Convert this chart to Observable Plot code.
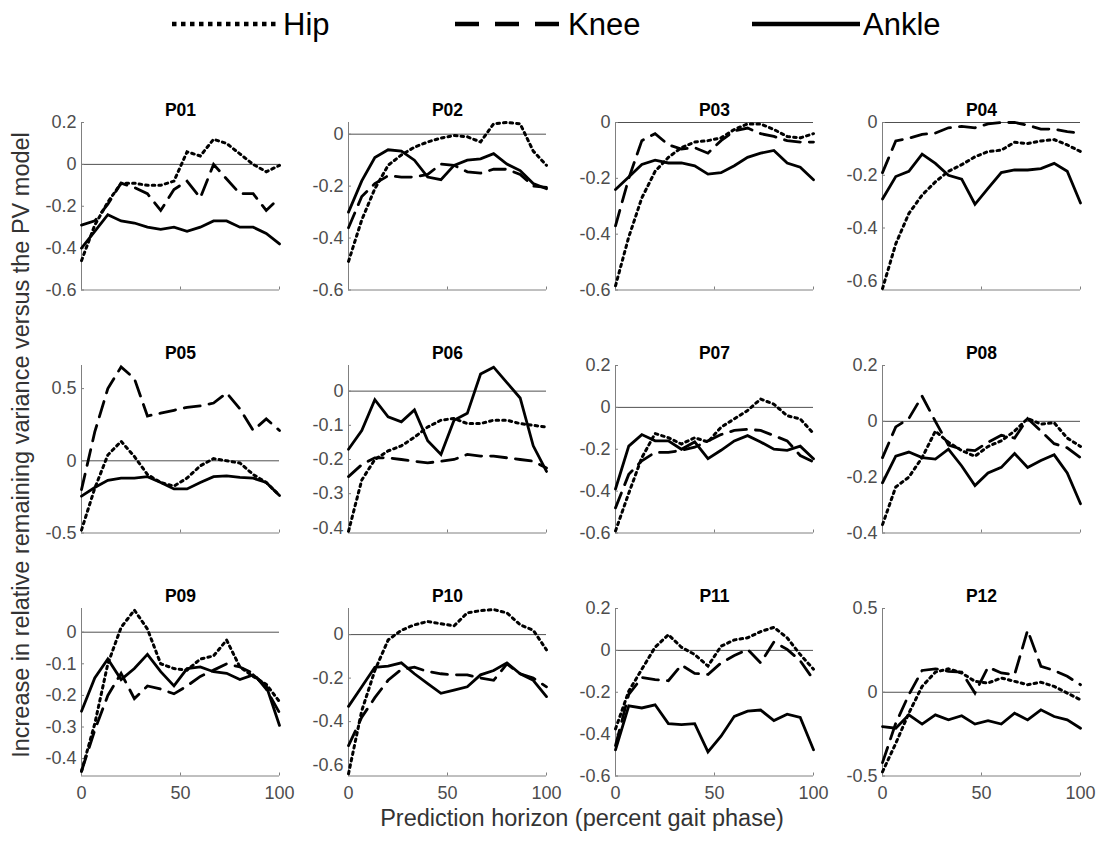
<!DOCTYPE html>
<html><head><meta charset="utf-8">
<script src="https://cdn.jsdelivr.net/npm/d3@7"></script>
<script src="https://cdn.jsdelivr.net/npm/@observablehq/plot@0.6"></script>
<style>
body{margin:0;background:#fff;font-family:"Liberation Sans",Arial,sans-serif;}
#root{position:relative;width:1097px;height:841px;overflow:hidden;background:#fff}
.panel{position:absolute}
.ylab{position:absolute;left:22px;top:445px;transform:translate(-50%,-50%) rotate(-90deg);white-space:nowrap;font-size:23.5px;line-height:1;color:#333}
.xlab{position:absolute;left:582px;top:819px;transform:translate(-50%,-50%);white-space:nowrap;font-size:23.5px;line-height:1;color:#333}
#legend{position:absolute;left:0;top:0}
</style></head><body><div id="root"></div>
<script>
// ---- data ----
const horizon = [0, 6.7, 13.3, 20, 26.7, 33.3, 40, 46.7, 53.3, 60, 66.7, 73.3, 80, 86.7, 93.3, 100];
const participants = ["P01","P02","P03","P04","P05","P06","P07","P08","P09","P10","P11","P12"];
const joints = ["Hip","Knee","Ankle"];

const hipP01 = [-0.46,-0.29,-0.18,-0.09,-0.09,-0.10,-0.10,-0.08,0.06,0.04,0.12,0.10,0.05,0.00,-0.035,-0.005];
const kneeP01 = [-0.29,-0.27,-0.19,-0.09,-0.11,-0.14,-0.22,-0.12,-0.08,-0.16,0.0,-0.07,-0.14,-0.14,-0.22,-0.16];
const ankleP01 = [-0.40,-0.32,-0.24,-0.27,-0.28,-0.30,-0.31,-0.30,-0.32,-0.30,-0.27,-0.27,-0.30,-0.30,-0.33,-0.38];

const hipP02 = [-0.49,-0.33,-0.21,-0.12,-0.08,-0.05,-0.03,-0.015,-0.005,-0.01,-0.03,0.04,0.045,0.04,-0.065,-0.12];
const kneeP02 = [-0.36,-0.24,-0.19,-0.16,-0.165,-0.165,-0.155,-0.115,-0.12,-0.145,-0.15,-0.135,-0.135,-0.155,-0.20,-0.205];
const ankleP02 = [-0.30,-0.18,-0.09,-0.06,-0.065,-0.10,-0.165,-0.175,-0.12,-0.10,-0.095,-0.075,-0.115,-0.14,-0.19,-0.21];

const hipP03 = [-0.585,-0.41,-0.27,-0.175,-0.125,-0.09,-0.07,-0.065,-0.055,-0.025,-0.005,-0.005,-0.025,-0.05,-0.055,-0.04];
const kneeP03 = [-0.37,-0.20,-0.065,-0.04,-0.08,-0.095,-0.09,-0.11,-0.065,-0.03,-0.02,-0.04,-0.05,-0.065,-0.07,-0.07];
const ankleP03 = [-0.24,-0.195,-0.15,-0.135,-0.145,-0.145,-0.155,-0.185,-0.18,-0.155,-0.125,-0.11,-0.10,-0.145,-0.16,-0.205];

const hipP04 = [-0.63,-0.46,-0.345,-0.275,-0.225,-0.185,-0.16,-0.13,-0.11,-0.105,-0.075,-0.08,-0.07,-0.065,-0.085,-0.11];
const kneeP04 = [-0.19,-0.07,-0.06,-0.045,-0.04,-0.02,-0.015,-0.02,-0.005,0.0,0.0,-0.01,-0.025,-0.025,-0.035,-0.04];
const ankleP04 = [-0.29,-0.205,-0.185,-0.12,-0.155,-0.20,-0.215,-0.31,-0.25,-0.19,-0.18,-0.18,-0.175,-0.155,-0.185,-0.305];

const hipP05 = [-0.48,-0.19,0.04,0.135,0.03,-0.095,-0.15,-0.175,-0.12,-0.035,0.015,0.0,-0.015,-0.095,-0.15,-0.24];
const kneeP05 = [-0.2,0.2,0.5,0.65,0.57,0.31,0.33,0.35,0.37,0.38,0.40,0.47,0.36,0.21,0.29,0.21];
const ankleP05 = [-0.245,-0.185,-0.135,-0.12,-0.12,-0.11,-0.15,-0.195,-0.195,-0.15,-0.11,-0.105,-0.115,-0.12,-0.15,-0.24];

const hipP06 = [-0.41,-0.26,-0.20,-0.175,-0.16,-0.135,-0.105,-0.085,-0.08,-0.095,-0.095,-0.085,-0.085,-0.095,-0.10,-0.105];
const kneeP06 = [-0.25,-0.215,-0.195,-0.195,-0.20,-0.205,-0.21,-0.205,-0.20,-0.185,-0.19,-0.19,-0.195,-0.20,-0.205,-0.225];
const ankleP06 = [-0.17,-0.115,-0.025,-0.075,-0.09,-0.055,-0.145,-0.185,-0.085,-0.065,0.05,0.07,0.025,-0.02,-0.16,-0.235];

const hipP07 = [-0.59,-0.41,-0.24,-0.125,-0.145,-0.175,-0.145,-0.165,-0.095,-0.055,-0.015,0.04,0.015,-0.04,-0.055,-0.125];
const kneeP07 = [-0.48,-0.32,-0.255,-0.215,-0.215,-0.205,-0.19,-0.16,-0.13,-0.11,-0.105,-0.11,-0.135,-0.16,-0.23,-0.26];
const ankleP07 = [-0.39,-0.185,-0.13,-0.16,-0.16,-0.20,-0.165,-0.245,-0.205,-0.16,-0.135,-0.165,-0.20,-0.205,-0.185,-0.245];

const hipP08 = [-0.37,-0.235,-0.20,-0.13,-0.035,-0.075,-0.105,-0.125,-0.09,-0.07,-0.035,0.01,-0.01,-0.005,-0.06,-0.09];
const kneeP08 = [-0.13,-0.02,0.01,0.09,0.0,-0.085,-0.10,-0.105,-0.075,-0.05,-0.06,0.01,-0.035,-0.08,-0.095,-0.13];
const ankleP08 = [-0.22,-0.125,-0.11,-0.13,-0.135,-0.10,-0.16,-0.23,-0.185,-0.165,-0.115,-0.165,-0.14,-0.12,-0.185,-0.295];

const hipP09 = [-0.44,-0.29,-0.10,0.015,0.07,0.01,-0.10,-0.115,-0.12,-0.085,-0.075,-0.025,-0.11,-0.14,-0.165,-0.22];
const kneeP09 = [-0.44,-0.31,-0.20,-0.13,-0.21,-0.17,-0.18,-0.195,-0.17,-0.14,-0.12,-0.10,-0.11,-0.13,-0.18,-0.255];
const ankleP09 = [-0.25,-0.145,-0.085,-0.15,-0.115,-0.07,-0.125,-0.17,-0.115,-0.11,-0.125,-0.13,-0.15,-0.135,-0.17,-0.295];

const hipP10 = [-0.64,-0.35,-0.165,-0.025,0.02,0.045,0.06,0.05,0.04,0.10,0.11,0.115,0.10,0.045,0.02,-0.07];
const kneeP10 = [-0.51,-0.38,-0.29,-0.21,-0.16,-0.15,-0.17,-0.18,-0.185,-0.185,-0.20,-0.21,-0.135,-0.18,-0.20,-0.24];
const ankleP10 = [-0.33,-0.24,-0.15,-0.145,-0.13,-0.18,-0.225,-0.27,-0.255,-0.24,-0.185,-0.165,-0.13,-0.18,-0.21,-0.285];

const hipP11 = [-0.375,-0.195,-0.09,0.015,0.075,0.015,-0.02,-0.075,0.02,0.05,0.06,0.09,0.11,0.06,-0.02,-0.09];
const kneeP11 = [-0.455,-0.21,-0.13,-0.14,-0.145,-0.07,-0.11,-0.115,-0.06,-0.025,0.005,-0.06,0.04,0.005,-0.05,-0.14];
const ankleP11 = [-0.475,-0.265,-0.275,-0.26,-0.35,-0.355,-0.35,-0.485,-0.41,-0.315,-0.29,-0.285,-0.335,-0.305,-0.32,-0.475];

const hipP12 = [-0.475,-0.305,-0.125,0.035,0.12,0.14,0.115,0.065,0.055,0.085,0.065,0.045,0.06,0.035,-0.005,-0.045];
const kneeP12 = [-0.42,-0.185,-0.015,0.13,0.14,0.125,0.12,-0.005,0.15,0.115,0.105,0.37,0.155,0.13,0.095,0.045];
const ankleP12 = [-0.205,-0.215,-0.135,-0.19,-0.135,-0.165,-0.14,-0.19,-0.17,-0.19,-0.125,-0.165,-0.105,-0.145,-0.165,-0.215];

const yLow  = [-0.6, -0.6, -0.6, -0.635, -0.5, -0.415, -0.6, -0.4, -0.455, -0.65, -0.6, -0.5];
const yHigh = [0.2, 0.045, 0, 0, 0.66, 0.075, 0.2, 0.2, 0.075, 0.12, 0.2, 0.5];
const yTicks = [
  [-0.6,-0.4,-0.2,0,0.2], [-0.6,-0.4,-0.2,0], [-0.6,-0.4,-0.2,0], [-0.6,-0.4,-0.2,0],
  [-0.5,0,0.5], [-0.4,-0.3,-0.2,-0.1,0], [-0.6,-0.4,-0.2,0,0.2], [-0.4,-0.2,0,0.2],
  [-0.4,-0.3,-0.2,-0.1,0], [-0.6,-0.4,-0.2,0], [-0.6,-0.4,-0.2,0,0.2], [-0.5,0,0.5]
];
const xTicks = [0, 50, 100];

const hipAll = [hipP01,hipP02,hipP03,hipP04,hipP05,hipP06,hipP07,hipP08,hipP09,hipP10,hipP11,hipP12];
const kneeAll = [kneeP01,kneeP02,kneeP03,kneeP04,kneeP05,kneeP06,kneeP07,kneeP08,kneeP09,kneeP10,kneeP11,kneeP12];
const ankleAll = [ankleP01,ankleP02,ankleP03,ankleP04,ankleP05,ankleP06,ankleP07,ankleP08,ankleP09,ankleP10,ankleP11,ankleP12];

// ---- styles ----
const lineStyle = {
  Hip:   {strokeDasharray: "2.6 4", strokeWidth: 3},
  Knee:  {strokeDasharray: "16 9", strokeWidth: 2.8},
  Ankle: {strokeDasharray: null, strokeWidth: 2.8}
};

const root = document.getElementById("root");
const W = 198, H = 167.5;
const mL = 60, mR = 16, mT = 30, mB = 30;
const FONT = '"Liberation Sans", Arial, sans-serif';
const AX = "#808080";

participants.forEach((name, i) => {
  const row = Math.floor(i / 4), col = i % 4;
  const left = 80.7 + col * 267.2, top = 121.7 + row * 243.2;
  const series = {Hip: hipAll[i], Knee: kneeAll[i], Ankle: ankleAll[i]};
  const lineMarks = joints.map(j => Plot.line(
    horizon.map((h, k) => ({h, v: series[j][k], joint: j})),
    {x: "h", y: "v", stroke: "black", strokeWidth: lineStyle[j].strokeWidth,
     strokeDasharray: lineStyle[j].strokeDasharray, strokeLinejoin: "miter", strokeMiterlimit: 4}
  ));
  const bottom = row === 2;
  const svg = Plot.plot({
    width: W + mL + mR, height: H + mT + mB,
    marginLeft: mL, marginRight: mR, marginTop: mT, marginBottom: mB,
    x: {domain: [0, 100], axis: bottom ? undefined : null},
    y: {domain: [yLow[i], yHigh[i]]},
    style: {fontFamily: FONT, fontSize: "18px", color: "#4d4d4d", background: "transparent", overflow: "visible"},
    marks: [
      Plot.axisY({ticks: yTicks[i], tickSize: 0, tickPadding: 5, tickFormat: d => String(d), label: null, fontSize: 18}),
      bottom ? Plot.axisX({ticks: xTicks, tickSize: 0, tickPadding: 10, tickFormat: d => String(d), label: null, fontSize: 18}) : null,
      Plot.ruleY([0], {stroke: "#505050", strokeWidth: 1}),
      Plot.ruleX([0], {stroke: AX, strokeWidth: 1}),
      Plot.ruleY([yLow[i]], {stroke: AX, strokeWidth: 1}),
      Plot.tickX(xTicks, {x: d => d, insetTop: H - 3, stroke: AX}),
      Plot.tickY(yTicks[i], {y: d => d, insetRight: W - 3, stroke: AX}),
      ...lineMarks,
      Plot.text([name], {frameAnchor: "top", text: d => d, dy: -12, lineAnchor: "middle",
        fontSize: 17.5, fontWeight: "bold", fill: "black"})
    ]
  });
  const div = document.createElement("div");
  div.className = "panel";
  div.style.left = (left - mL) + "px";
  div.style.top = (top - mT) + "px";
  div.appendChild(svg);
  root.appendChild(div);
});

// axis titles
const yl = document.createElement("div");
yl.className = "ylab";
yl.textContent = "Increase in relative remaining variance versus the PV model";
root.appendChild(yl);
const xl = document.createElement("div");
xl.className = "xlab";
xl.textContent = "Prediction horizon (percent gait phase)";
root.appendChild(xl);

// legend
const ns = "http://www.w3.org/2000/svg";
const leg = document.createElementNS(ns, "svg");
leg.setAttribute("id", "legend");
leg.setAttribute("width", 1097);
leg.setAttribute("height", 50);
const legendItems = [
  {joint: "Hip", x0: 172, x1: 280, dash: "4.5 4.5"},
  {joint: "Knee", x0: 455, x1: 565, dash: "24 16"},
  {joint: "Ankle", x0: 752, x1: 860, dash: null}
];
legendItems.forEach(it => {
  const l = document.createElementNS(ns, "line");
  l.setAttribute("x1", it.x0); l.setAttribute("x2", it.x1);
  l.setAttribute("y1", 24); l.setAttribute("y2", 24);
  l.setAttribute("stroke", "black"); l.setAttribute("stroke-width", 4.5);
  if (it.dash) l.setAttribute("stroke-dasharray", it.dash);
  leg.appendChild(l);
  const t = document.createElementNS(ns, "text");
  t.setAttribute("x", it.x1 + 3); t.setAttribute("y", 35);
  t.setAttribute("font-size", 31); t.setAttribute("font-family", FONT);
  t.setAttribute("fill", "black");
  t.textContent = it.joint;
  leg.appendChild(t);
});
root.appendChild(leg);
</script>
</body></html>
